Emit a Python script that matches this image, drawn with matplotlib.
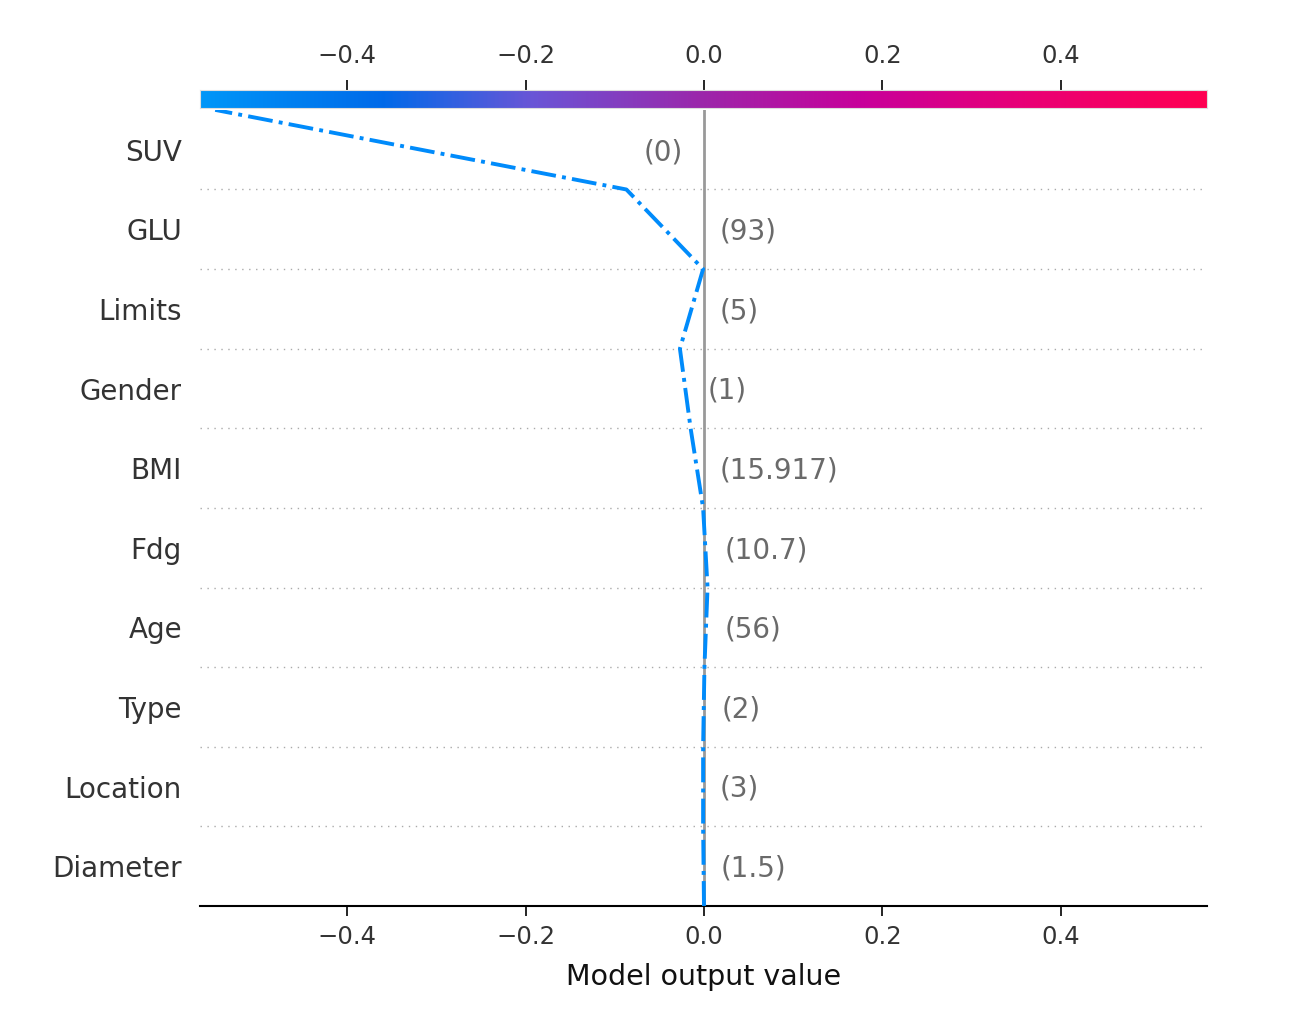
import matplotlib
matplotlib.use('Agg')
import matplotlib.pyplot as plt
import numpy as np
from matplotlib.colors import LinearSegmentedColormap

plt.rcParams['font.family'] = ['DejaVu Sans']

# features from bottom to top
features = ['Diameter', 'Location', 'Type', 'Age', 'Fdg', 'BMI', 'Gender', 'Limits', 'GLU', 'SUV']
feature_values = ['(1.5)', '(3)', '(2)', '(56)', '(10.7)', '(15.917)', '(1)', '(5)', '(93)', '(0)']
# cumulative model output at each row boundary (bottom = base value)
cum_output = [0.0, -0.001, -0.001, 0.0005, 0.004, -0.001, -0.015, -0.027, -0.001, -0.087, -0.548]
base_value = 0.0
x_range = (-0.565, 0.564)
ticks = [-0.4, -0.2, 0.0, 0.2, 0.4]
tick_labels = ['\u22120.4', '\u22120.2', '0.0', '0.2', '0.4']

# red-blue colormap in the style of shap
cmap = LinearSegmentedColormap.from_list('shap_rb', [
    (0.0, '#0096f8'), (0.18, '#006ae9'), (0.33, '#6a55d6'), (0.5, '#9c26aa'),
    (0.66, '#c8009a'), (0.83, '#ea0074'), (1.0, '#ff0052')])

fig = plt.figure(figsize=(12.94, 10.09), dpi=100)
ax = fig.add_axes([0.1546, 0.1021, 0.7782, 0.789])
cax = fig.add_axes([0.1546, 0.893, 0.7782, 0.0178])

n = len(features)
y = np.arange(n + 1)

# dotted separators
for i in range(1, n):
    ax.axhline(i, color='#aaaaaa', lw=1, linestyle=(0, (1, 4)), zorder=0)

ax.axvline(base_value, color='#999999', lw=2, zorder=1)
ax.plot(cum_output, y, color='#008bfb', lw=2.8, linestyle='-.', zorder=3)

# feature value labels to the right of each row segment
off = 0.019
for i in range(n):
    xpos = max(cum_output[i], cum_output[i + 1]) + off
    ax.text(xpos, i + 0.47, feature_values[i], ha='left', va='center',
            fontsize=20, color='#6a6a6a')

ax.set_xlim(x_range)
ax.set_ylim(0, n)
ax.set_yticks(np.arange(n) + 0.5)
ax.set_yticklabels(features, fontsize=20, color='#333333')
ax.tick_params(axis='y', length=0, pad=13)
ax.set_xticks(ticks)
ax.set_xticklabels(tick_labels)
ax.tick_params(axis='x', labelsize=17.5, labelcolor='#333333', length=7, width=1.2, pad=7)
for s in ['top', 'left', 'right']:
    ax.spines[s].set_visible(False)
ax.spines['bottom'].set_linewidth(1.5)
ax.set_xlabel('Model output value', fontsize=20.5, color='#111111', labelpad=10)

# colorbar on top
grad = np.linspace(0, 1, 512).reshape(1, -1)
cax.imshow(grad, aspect='auto', cmap=cmap, extent=[x_range[0], x_range[1], 0, 1])
cax.set_xlim(x_range)
cax.set_yticks([])
cax.xaxis.tick_top()
cax.set_xticks(ticks)
cax.set_xticklabels(tick_labels)
cax.tick_params(axis='x', labelsize=17.5, labelcolor='#333333', length=7, width=1.2, pad=9)
for s in cax.spines.values():
    s.set_color('#dddddd')
    s.set_linewidth(0.8)

fig.savefig('out.png', dpi=100, facecolor='white')
